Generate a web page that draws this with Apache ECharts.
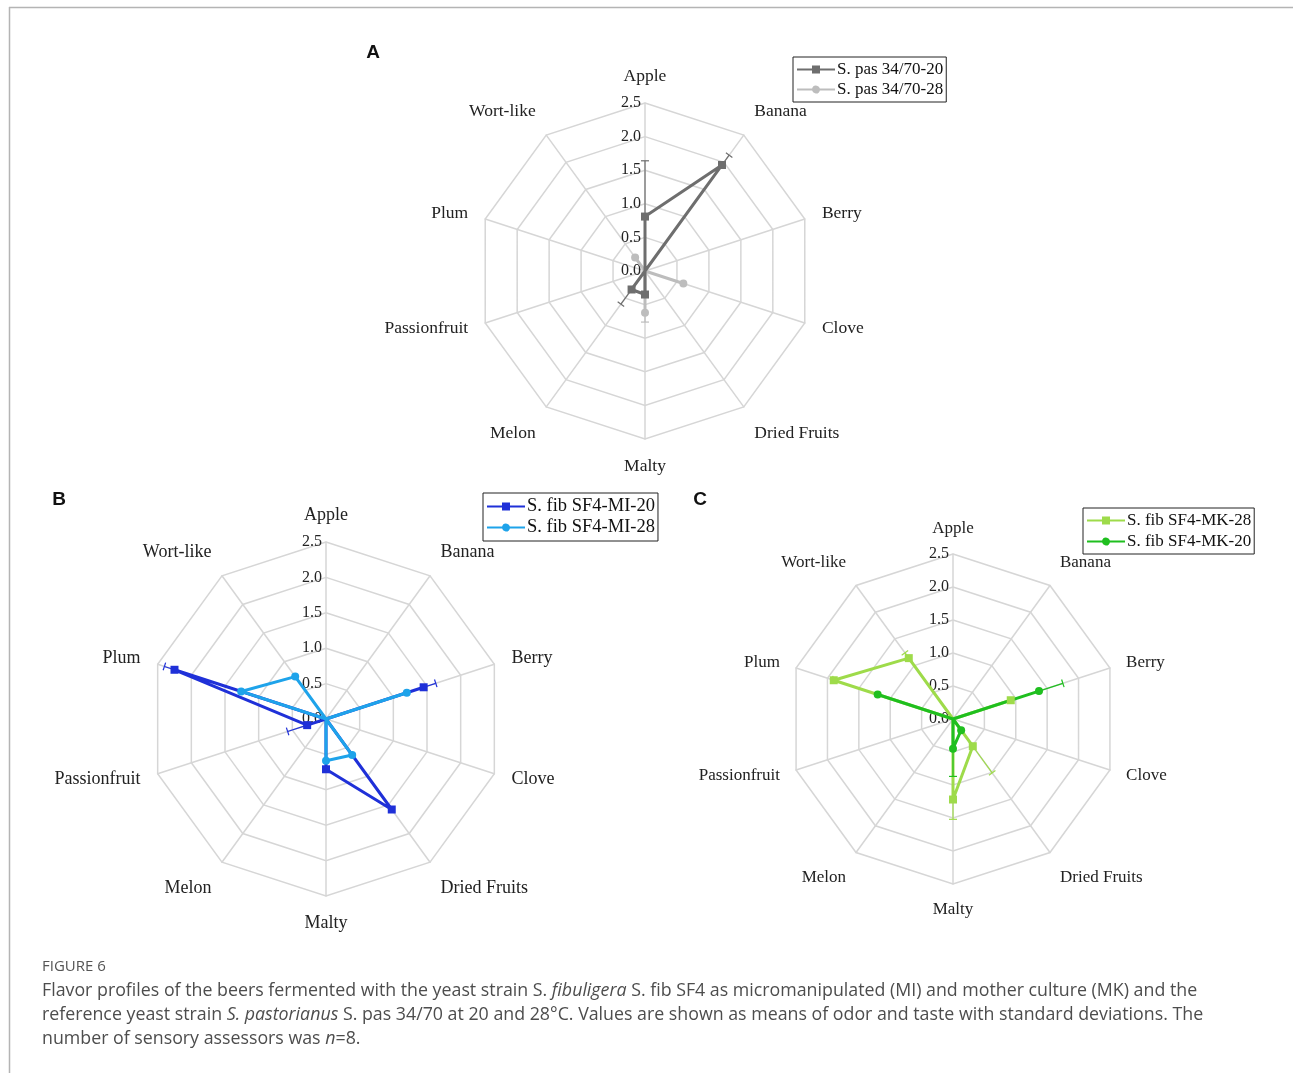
<!DOCTYPE html>
<html>
<head>
<meta charset="utf-8">
<title>Flavor profiles</title>
<script src="https://cdn.jsdelivr.net/npm/echarts@6/dist/echarts.min.js"></script>
<style>
  html, body { margin: 0; padding: 0; background: #ffffff; }
  #chart { width: 1293px; height: 1073px; }
</style>
</head>
<body>
<div id="chart"></div>
<script>
// Sensory attributes, clockwise from the top
const flavours = ['Apple', 'Banana', 'Berry', 'Clove', 'Dried Fruits', 'Malty', 'Melon', 'Passionfruit', 'Plum', 'Wort-like'];
const tickLabels = ['0.0', '0.5', '1.0', '1.5', '2.0', '2.5'];

// Panel A: S. pastorianus S. pas 34/70 (mean, standard deviation)
const pas20 = [0.81, 1.95, 0, 0, 0, 0.35, 0.34, 0, 0, 0];
const pas20Sd = [0.83, 0.18, 0, 0, 0, 0.04, 0.27, 0, 0, 0];
const pas28 = [0, 0, 0, 0.60, 0, 0.62, 0, 0, 0, 0.25];
const pas28Sd = [0, 0, 0, 0, 0, 0.14, 0, 0, 0, 0];

// Panel B: S. fibuligera SF4, micromanipulated
const mi20 = [0, 0, 1.45, 0, 1.58, 0.71, 0, 0.28, 2.25, 0];
const mi20Sd = [0, 0, 0.18, 0, 0, 0, 0, 0.29, 0.15, 0];
const mi28 = [0, 0, 1.20, 0, 0.63, 0.59, 0, 0, 1.26, 0.74];
const mi28Sd = [0, 0, 0, 0, 0, 0, 0, 0, 0, 0];

// Panel C: S. fibuligera SF4, mother culture
const mk28 = [0, 0, 0.92, 0, 0.51, 1.22, 0, 0, 1.90, 1.14];
const mk28Sd = [0, 0, 0, 0, 0.50, 0.30, 0, 0, 0.03, 0.10];
const mk20 = [0, 0, 1.37, 0, 0.21, 0.45, 0, 0, 1.20, 0];
const mk20Sd = [0, 0, 0.38, 0, 0, 0.42, 0, 0, 0, 0];

const SERIF = '"Liberation Serif", "Times New Roman", serif';
const SANS = '"Open Sans", "Noto Sans", sans-serif';

// ECharts lays radar indicators out counter-clockwise; this order makes them run clockwise
const radarOrder = flavours.map((f, i) => (flavours.length - i) % flavours.length);

// Diagonal axis names sit a little further from the grid, vertically
const nameShift = { 'Banana': 'up', 'Wort-like': 'up', 'Dried Fruits': 'down', 'Melon': 'down' };

// Panel geometry (shared by the radar grid and the polar overlay for markers/error bars)
const panels = [
  { center: [645, 271], radius: 168, nameSize: 17.5, nameGap: 18 },
  { center: [326, 719], radius: 177, nameSize: 18, nameGap: 18 },
  { center: [953, 719], radius: 165, nameSize: 17, nameGap: 17 }
];

// Legend icons: a line with a square or a round marker in the middle
const ICON_SQUARE = 'path://M0,3 L15,3 L15,0 L23,0 L23,3 L38,3 L38,5 L23,5 L23,8 L15,8 L15,5 L0,5 Z';
const ICON_CIRCLE = 'path://M0,3 L15.127,3 A4,4 0 0,1 22.873,3 L38,3 L38,5 L22.873,5 A4,4 0 0,1 15.127,5 L0,5 Z';

function radarComponent(p) {
  const font = { color: '#222', fontFamily: SERIF, fontSize: p.nameSize };
  return {
    center: p.center,
    radius: p.radius,
    startAngle: 90,
    shape: 'polygon',
    splitNumber: 5,
    nameGap: p.nameGap,
    axisName: Object.assign({
      formatter: name => nameShift[name] ? '{' + nameShift[name] + '|' + name + '}' : name,
      rich: {
        up: Object.assign({ padding: [0, 0, 18, 0] }, font),
        down: Object.assign({ padding: [23, 0, 0, 0] }, font)
      }
    }, font),
    indicator: radarOrder.map(i => i === 0
      ? { name: flavours[i], min: 0, max: 2.5, axisLabel: { show: true } }
      : { name: flavours[i], min: 0, max: 2.5 }),
    axisLabel: {
      show: false,
      margin: 4,
      color: '#222',
      fontFamily: SERIF,
      fontSize: 16,
      formatter: v => tickLabels[Math.round(v / 0.5)]
    },
    axisTick: { show: false },
    axisLine: { lineStyle: { color: '#d6d6d6', width: 1.5 } },
    splitLine: { lineStyle: { color: '#d6d6d6', width: 1.5 } },
    splitArea: { show: false }
  };
}

function polarComponent(p) {
  return { center: p.center, radius: p.radius };
}

function radarSeries(radarIndex, name, values, color) {
  return {
    type: 'radar',
    radarIndex,
    name,
    symbol: 'none',
    color,
    itemStyle: { color },
    lineStyle: { color, width: 3 },
    data: [{ name, value: radarOrder.map(i => values[i]) }],
    z: 3
  };
}

// Markers and one-sided error bars for non-zero means, placed through the polar scales
function markerSeries(polarIndex, means, sds, color, shape) {
  const rows = [];
  means.forEach((m, i) => { if (m > 0) rows.push([m, i, sds[i]]); });
  return {
    type: 'custom',
    coordinateSystem: 'polar',
    polarIndex,
    silent: true,
    z: 5,
    data: rows,
    renderItem(params, api) {
      const mean = api.value(0), idx = api.value(1), sd = api.value(2);
      const p0 = api.coord([mean, idx]);
      const children = [];
      if (sd > 0) {
        const p1 = api.coord([mean + sd, idx]);
        const dx = p1[0] - p0[0], dy = p1[1] - p0[1];
        const len = Math.hypot(dx, dy) || 1;
        const nx = -dy / len * 4, ny = dx / len * 4;
        children.push({ type: 'line', shape: { x1: p0[0], y1: p0[1], x2: p1[0], y2: p1[1] }, style: { stroke: color, lineWidth: 1.2 } });
        children.push({ type: 'line', shape: { x1: p1[0] - nx, y1: p1[1] - ny, x2: p1[0] + nx, y2: p1[1] + ny }, style: { stroke: color, lineWidth: 1.2 } });
      }
      if (shape === 'square') {
        children.push({ type: 'rect', shape: { x: p0[0] - 4, y: p0[1] - 4, width: 8, height: 8 }, style: { fill: color } });
      } else {
        children.push({ type: 'circle', shape: { cx: p0[0], cy: p0[1], r: 4 }, style: { fill: color } });
      }
      return { type: 'group', children };
    }
  };
}

function legend(pos, items, fontSize, gap) {
  return Object.assign({
    orient: 'vertical',
    itemWidth: 38,
    itemHeight: 8,
    itemGap: gap,
    padding: [4, 3, 4, 4],
    borderColor: '#222',
    borderWidth: 1,
    selectedMode: false,
    textStyle: { fontFamily: SERIF, fontSize, color: '#111', padding: [0, 0, 0, -3] },
    data: items
  }, pos);
}

const C = {
  pas20: '#6e6e6e', pas28: '#bdbdbd',
  mi20: '#1f30d8', mi28: '#1ea3ea',
  mk28: '#9edb4a', mk20: '#1fbf1f'
};

const N = {
  pas20: 'S. pas 34/70-20', pas28: 'S. pas 34/70-28',
  mi20: 'S. fib SF4-MI-20', mi28: 'S. fib SF4-MI-28',
  mk28: 'S. fib SF4-MK-28', mk20: 'S. fib SF4-MK-20'
};

const captionRich = {
  r: { fontFamily: SANS, fontSize: 17.8, fill: '#4d4d4d' },
  i: { fontFamily: SANS, fontSize: 17.8, fontStyle: 'italic', fill: '#4d4d4d' }
};

const letterStyle = { fontFamily: '"Liberation Sans", Arial, sans-serif', fontWeight: 'bold', fontSize: 19, fill: '#111', align: 'center', verticalAlign: 'middle' };

const option = {
  backgroundColor: '#ffffff',
  animation: false,
  radar: panels.map(radarComponent),
  polar: panels.map(polarComponent),
  angleAxis: panels.map((p, i) => ({
    polarIndex: i, type: 'category', data: flavours, startAngle: 90, clockwise: true, boundaryGap: false, show: false
  })),
  radiusAxis: panels.map((p, i) => ({
    polarIndex: i, type: 'value', min: 0, max: 2.5, show: false
  })),
  legend: [
    legend({ left: 793, top: 57 }, [
      { name: N.pas20, icon: ICON_SQUARE },
      { name: N.pas28, icon: ICON_CIRCLE }
    ], 17, 3),
    legend({ left: 483, top: 493 }, [
      { name: N.mi20, icon: ICON_SQUARE },
      { name: N.mi28, icon: ICON_CIRCLE }
    ], 18.5, 2),
    legend({ left: 1083, top: 508 }, [
      { name: N.mk28, icon: ICON_SQUARE },
      { name: N.mk20, icon: ICON_CIRCLE }
    ], 17, 4)
  ],
  series: [
    radarSeries(0, N.pas28, pas28, C.pas28),
    radarSeries(0, N.pas20, pas20, C.pas20),
    radarSeries(1, N.mi20, mi20, C.mi20),
    radarSeries(1, N.mi28, mi28, C.mi28),
    radarSeries(2, N.mk28, mk28, C.mk28),
    radarSeries(2, N.mk20, mk20, C.mk20),
    markerSeries(0, pas28, pas28Sd, C.pas28, 'circle'),
    markerSeries(0, pas20, pas20Sd, C.pas20, 'square'),
    markerSeries(1, mi20, mi20Sd, C.mi20, 'square'),
    markerSeries(1, mi28, mi28Sd, C.mi28, 'circle'),
    markerSeries(2, mk28, mk28Sd, C.mk28, 'square'),
    markerSeries(2, mk20, mk20Sd, C.mk20, 'circle')
  ],
  graphic: [
    // page frame
    { type: 'line', shape: { x1: 9, y1: 7.5, x2: 1293, y2: 7.5 }, style: { stroke: '#b4b4b4', lineWidth: 1.5 } },
    { type: 'line', shape: { x1: 9.5, y1: 7, x2: 9.5, y2: 1073 }, style: { stroke: '#b4b4b4', lineWidth: 1.5 } },
    // panel letters
    { type: 'text', x: 373, y: 53, style: Object.assign({ text: 'A' }, letterStyle) },
    { type: 'text', x: 59, y: 500, style: Object.assign({ text: 'B' }, letterStyle) },
    { type: 'text', x: 700, y: 500, style: Object.assign({ text: 'C' }, letterStyle) },
    // caption
    { type: 'text', x: 42, y: 967, style: { text: 'FIGURE 6', fontFamily: SANS, fontSize: 15, fill: '#555', verticalAlign: 'middle' } },
    { type: 'text', x: 42, y: 991, style: {
      text: '{r|Flavor profiles of the beers fermented with the yeast strain S. }{i|fibuligera}{r| S. fib SF4 as micromanipulated (MI) and mother culture (MK) and the}',
      rich: captionRich, verticalAlign: 'middle' } },
    { type: 'text', x: 42, y: 1015, style: {
      text: '{r|reference yeast strain }{i|S. pastorianus}{r| S. pas 34/70 at 20 and 28°C. Values are shown as means of odor and taste with standard deviations. The}',
      rich: captionRich, verticalAlign: 'middle' } },
    { type: 'text', x: 42, y: 1039, style: {
      text: '{r|number of sensory assessors was }{i|n}{r|=8.}',
      rich: captionRich, verticalAlign: 'middle' } }
  ]
};

const chart = echarts.init(document.getElementById('chart'), null, { renderer: 'canvas' });
chart.setOption(option);
</script>
</body>
</html>
